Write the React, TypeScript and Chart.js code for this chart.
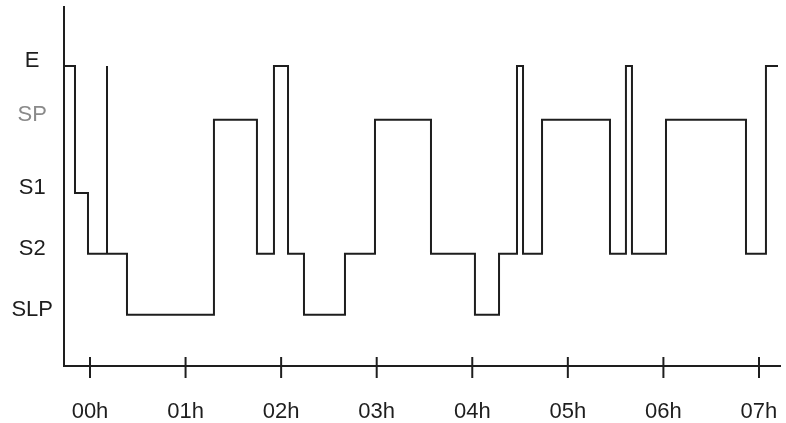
import React, { useEffect, useRef } from 'react';
import { Chart, registerables } from 'chart.js';

Chart.register(...registerables);

// Sleep stage axis
const stageNames = ['SLP', 'S2', 'S1', 'SP', 'E'];
const stageLevels = [0, 1, 2, 3.2, 4.08];

// Hour axis
const hourTicks = [0, 1, 2, 3, 4, 5, 6, 7];
const hourLabels = ['00h', '01h', '02h', '03h', '04h', '05h', '06h', '07h'];

// Each epoch: start time (hours) and stage held until the next start
const epochStartHours = [
  -0.27, -0.157, -0.021, 0.178, 0.178, 0.387, 1.297, 1.747, 1.925, 2.072,
  2.239, 2.668, 2.982, 3.568, 4.028, 4.28, 4.468, 4.531, 4.73, 5.441,
  5.608, 5.671, 6.027, 6.864, 7.073, 7.199,
];
const epochStages = [
  'E', 'S1', 'S2', 'E', 'S2', 'SLP', 'SP', 'S2', 'E', 'S2',
  'SLP', 'S2', 'SP', 'S2', 'SLP', 'S2', 'E', 'S2', 'SP', 'S2',
  'E', 'S2', 'SP', 'S2', 'E', 'E',
];

const FONT = '"Liberation Sans", Arial, sans-serif';
const INK = '#1e1e1e';

const crossTicks = {
  id: 'crossTicks',
  afterDraw(chart: any) {
    const xs = chart.scales.x;
    const ctx = chart.ctx;
    const yb = chart.chartArea.bottom;
    ctx.save();
    ctx.strokeStyle = INK;
    ctx.lineWidth = 2;
    xs.ticks.forEach((t: any) => {
      const px = xs.getPixelForValue(t.value);
      ctx.beginPath();
      ctx.moveTo(px, yb - 9);
      ctx.lineTo(px, yb + 12);
      ctx.stroke();
    });
    ctx.restore();
  },
};

const noPad = (s: any) => {
  s.paddingTop = 0;
  s.paddingBottom = 0;
  s.paddingLeft = 0;
  s.paddingRight = 0;
};

export default function App() {
  const ref = useRef<HTMLCanvasElement | null>(null);

  useEffect(() => {
    document.body.style.margin = '0';
    const levelOf = (s: string) => stageLevels[stageNames.indexOf(s)];
    const points = epochStartHours.map((h, i) => ({ x: h, y: levelOf(epochStages[i]) }));
    const chart = new Chart(ref.current as HTMLCanvasElement, {
      type: 'line',
      data: {
        datasets: [
          {
            data: points,
            stepped: true,
            borderColor: INK,
            borderWidth: 2,
            pointRadius: 0,
            fill: false,
            clip: false as any,
          },
        ],
      },
      plugins: [crossTicks],
      options: {
        animation: false,
        responsive: false,
        devicePixelRatio: 1,
        layout: { padding: { top: 7, right: 6, left: 0, bottom: 0 } },
        plugins: { legend: { display: false }, tooltip: { enabled: false } },
        scales: {
          x: {
            type: 'linear',
            min: -0.272,
            max: 7.22,
            afterBuildTicks: (s: any) => {
              s.ticks = hourTicks.map((v) => ({ value: v }));
            },
            afterFit: (s: any) => {
              s.height = 57;
              noPad(s);
            },
            grid: { display: false, drawTicks: false },
            border: { display: true, color: INK, width: 2 },
            ticks: {
              padding: 33,
              color: INK,
              maxRotation: 0,
              font: { family: FONT, size: 22 },
              callback: (_v: any, i: number) => hourLabels[i],
            },
          },
          y: {
            type: 'linear',
            min: -0.84,
            max: 5.05,
            afterBuildTicks: (s: any) => {
              s.ticks = stageLevels.map((v) => ({ value: v }));
            },
            afterFit: (s: any) => {
              s.width = 64;
              noPad(s);
            },
            grid: { display: false, drawTicks: false },
            border: { display: true, color: INK, width: 2 },
            ticks: {
              padding: 11,
              crossAlign: 'center',
              labelOffset: -5,
              font: { family: FONT, size: 22 },
              color: (ctx: any) => (ctx.index === 3 ? '#8a8a8a' : INK),
              callback: (_v: any, i: number) => stageNames[i],
            },
          },
        },
      },
    });
    return () => chart.destroy();
  }, []);

  return (
    <div style={{ position: 'absolute', left: 0, top: 0, width: 786, height: 423 }}>
      <canvas ref={ref} width={786} height={423} style={{ display: 'block', width: 786, height: 423 }} />
    </div>
  );
}
